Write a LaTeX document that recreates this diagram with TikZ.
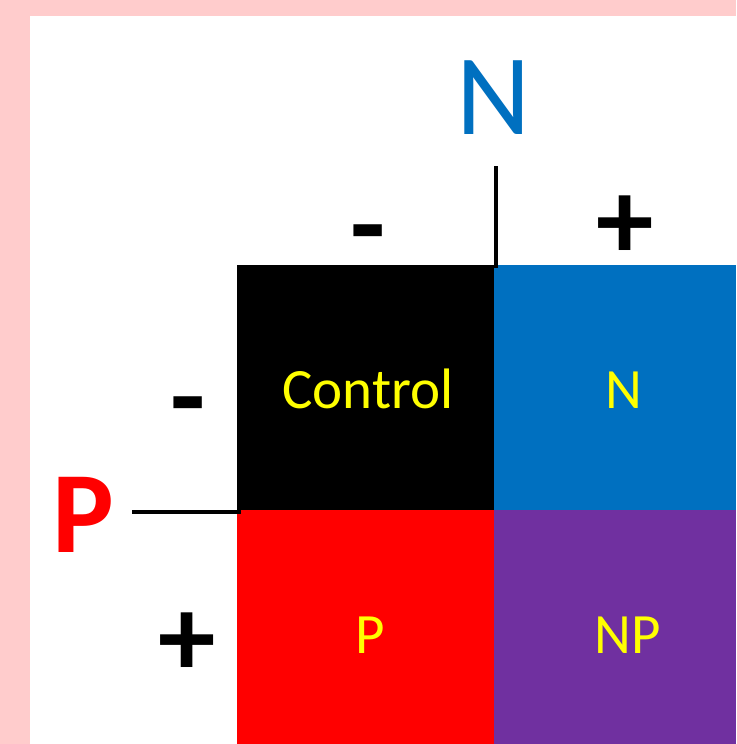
\documentclass[tikz,border=0pt]{standalone}
\usepackage{fontspec}
\setmainfont{Carlito}
\definecolor{pinkbg}{HTML}{FFCCCC}
\definecolor{nblue}{HTML}{0070C0}
\definecolor{pred}{HTML}{FF0000}
\definecolor{nppurple}{HTML}{7030A0}
\definecolor{lbl}{HTML}{FFFF00}
\begin{document}
\begin{tikzpicture}[x=1pt,y=-1pt,
  cell/.style={draw=none, inner sep=0pt, outer sep=0pt, rectangle},
  celltext/.style={anchor=base, inner sep=0pt, text=lbl, font=\fontsize{57}{60}\selectfont},
  sign/.style={anchor=base, inner sep=0pt, font=\fontsize{115}{120}\selectfont\bfseries},
  axisline/.style={line width=3.5pt, black}]
\useasboundingbox (0,0) rectangle (736,744);
\fill[pinkbg] (0,0) rectangle (736,744);
\fill[white] (30,16) rectangle (736,744);
% cells
\node[cell, fill=black, minimum width=257pt, minimum height=245pt] (c00) at (365.5,387.5) {};
\node[cell, fill=nblue, minimum width=242pt, minimum height=245pt] (c01) at (615,387.5) {};
\node[cell, fill=pred, minimum width=257pt, minimum height=234pt] (c10) at (365.5,627) {};
\node[cell, fill=nppurple, minimum width=242pt, minimum height=234pt] (c11) at (615,627) {};
% cell labels
\node[celltext] (tControl) at (368,408) {Control};
\node[celltext] (tN) at (624,408) {N};
\node[celltext] (tP) at (370,653) {P};
\node[celltext] (tNP) at (627.5,653) {NP};
% axis titles
\node[anchor=base, inner sep=0pt, text=nblue, font=\fontsize{115}{120}\selectfont] (axN) at (494,134) {N};
\node[anchor=base, inner sep=0pt, text=pred, font=\fontsize{116}{120}\selectfont\bfseries] (axP) at (83,552) {P};
% signs
\node[sign] (nminus) at (368.5,263) {-};
\node[sign] (nplus) at (625.5,259) {+};
\node[sign] (pminus) at (188,435) {-};
\node[sign] (pplus) at (187,676) {+};
% divider lines
\coordinate (vtop) at (496,166);
\coordinate (vbot) at (496,268);
\coordinate (hleft) at (132,512);
\coordinate (hright) at (241,512);
\draw[axisline] (vtop) -- (vbot);
\draw[axisline] (hleft) -- (hright);
\end{tikzpicture}
\end{document}
